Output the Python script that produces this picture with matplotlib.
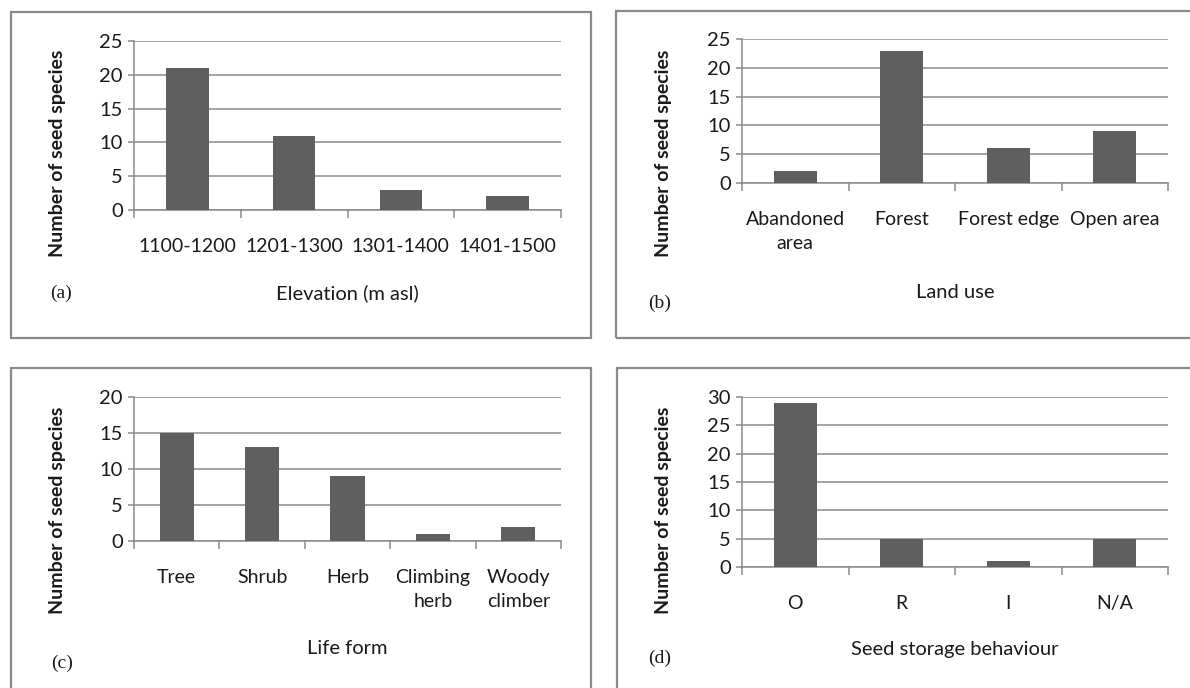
import matplotlib
matplotlib.use("Agg")
import matplotlib.pyplot as plt
from matplotlib.patches import Rectangle

# data
elev_cats = ["1100-1200", "1201-1300", "1301-1400", "1401-1500"]
elev_vals = [21, 11, 3, 2]

land_cats = ["Abandoned\narea", "Forest", "Forest edge", "Open area"]
land_vals = [2, 23, 6, 9]

life_cats = ["Tree", "Shrub", "Herb", "Climbing\nherb", "Woody\nclimber"]
life_vals = [15, 13, 9, 1, 2]

storage_cats = ["O", "R", "I", "N/A"]
storage_vals = [29, 5, 1, 5]

plt.rcParams['font.family'] = ['Lato', 'DejaVu Sans']

W, H = 1190, 688
fig = plt.figure(figsize=(W / 100, H / 100), dpi=100)

bar_col = "#5f5f5f"
line_col = "#8a8a8a"
txt_col = "#1a1a1a"


def px_rect(l, r, top, bot):
    return [l / W, 1 - bot / H, (r - l) / W, (bot - top) / H]


def fig_xy(x, y):
    return x / W, 1 - y / H


def panel(box, axpos, cats, vals, ymax, xlabel, xlab_y, letter, letter_xy, ylab_xy):
    # outer frame
    bl, bt, br, bb = box
    fig.patches.append(Rectangle((bl / W, 1 - bb / H), (br - bl) / W, (bb - bt) / H,
                                 transform=fig.transFigure, fill=False,
                                 edgecolor=line_col, lw=1.6, clip_on=False))
    ax = fig.add_axes(px_rect(*axpos))
    n = len(cats)
    x = list(range(n))
    ax.bar(x, vals, width=0.4, color=bar_col, zorder=3)
    ax.set_xlim(-0.5, n - 0.5)
    ax.set_ylim(0, ymax)
    ax.set_yticks(range(0, ymax + 1, 5))
    ax.yaxis.grid(True, color=line_col, lw=1.1, zorder=0)
    ax.set_axisbelow(True)
    ax.set_xticks(x)
    ax.set_xticklabels(cats, fontsize=14, linespacing=1.55, color=txt_col)
    ax.set_xticks([i - 0.5 for i in range(n + 1)], minor=True)
    ax.tick_params(axis='x', which='major', length=0, pad=20)
    ax.tick_params(axis='x', which='minor', length=6, color=line_col, width=1.1)
    ax.tick_params(axis='y', length=4, color=line_col, width=1.1, labelsize=14.5,
                   pad=4, labelcolor=txt_col)
    for s in ['top', 'right']:
        ax.spines[s].set_visible(False)
    for s in ['left', 'bottom']:
        ax.spines[s].set_color(line_col)
        ax.spines[s].set_linewidth(1.1)
    xc = (axpos[0] + axpos[1]) / 2
    fig.text(*fig_xy(xc, xlab_y), xlabel, ha='center', va='center', fontsize=14.5,
             color=txt_col)
    fig.text(*fig_xy(*letter_xy), letter, ha='center', va='center', fontsize=14,
             family='Liberation Serif', color=txt_col)
    fig.text(*fig_xy(*ylab_xy), "Number of seed species", ha='center', va='center',
             rotation=90, fontsize=14, fontweight='bold', color=txt_col)
    return ax


panel((11, 12, 591, 338), (134, 561, 41, 210), elev_cats, elev_vals, 25,
      "Elevation (m asl)", 293, "(a)", (61, 293), (57, 153))
panel((616, 11, 1230, 338), (742, 1168, 39, 183), land_cats, land_vals, 25,
      "Land use", 293, "(b)", (660, 303), (664, 153))
panel((11, 368, 591, 720), (134, 561, 397, 541), life_cats, life_vals, 20,
      "Life form", 649, "(c)", (62, 663), (57, 510))
panel((617, 368, 1230, 720), (742, 1168, 397, 567), storage_cats, storage_vals, 30,
      "Seed storage behaviour", 649, "(d)", (660, 658), (664, 510))

fig.savefig("out.png", dpi=100)
